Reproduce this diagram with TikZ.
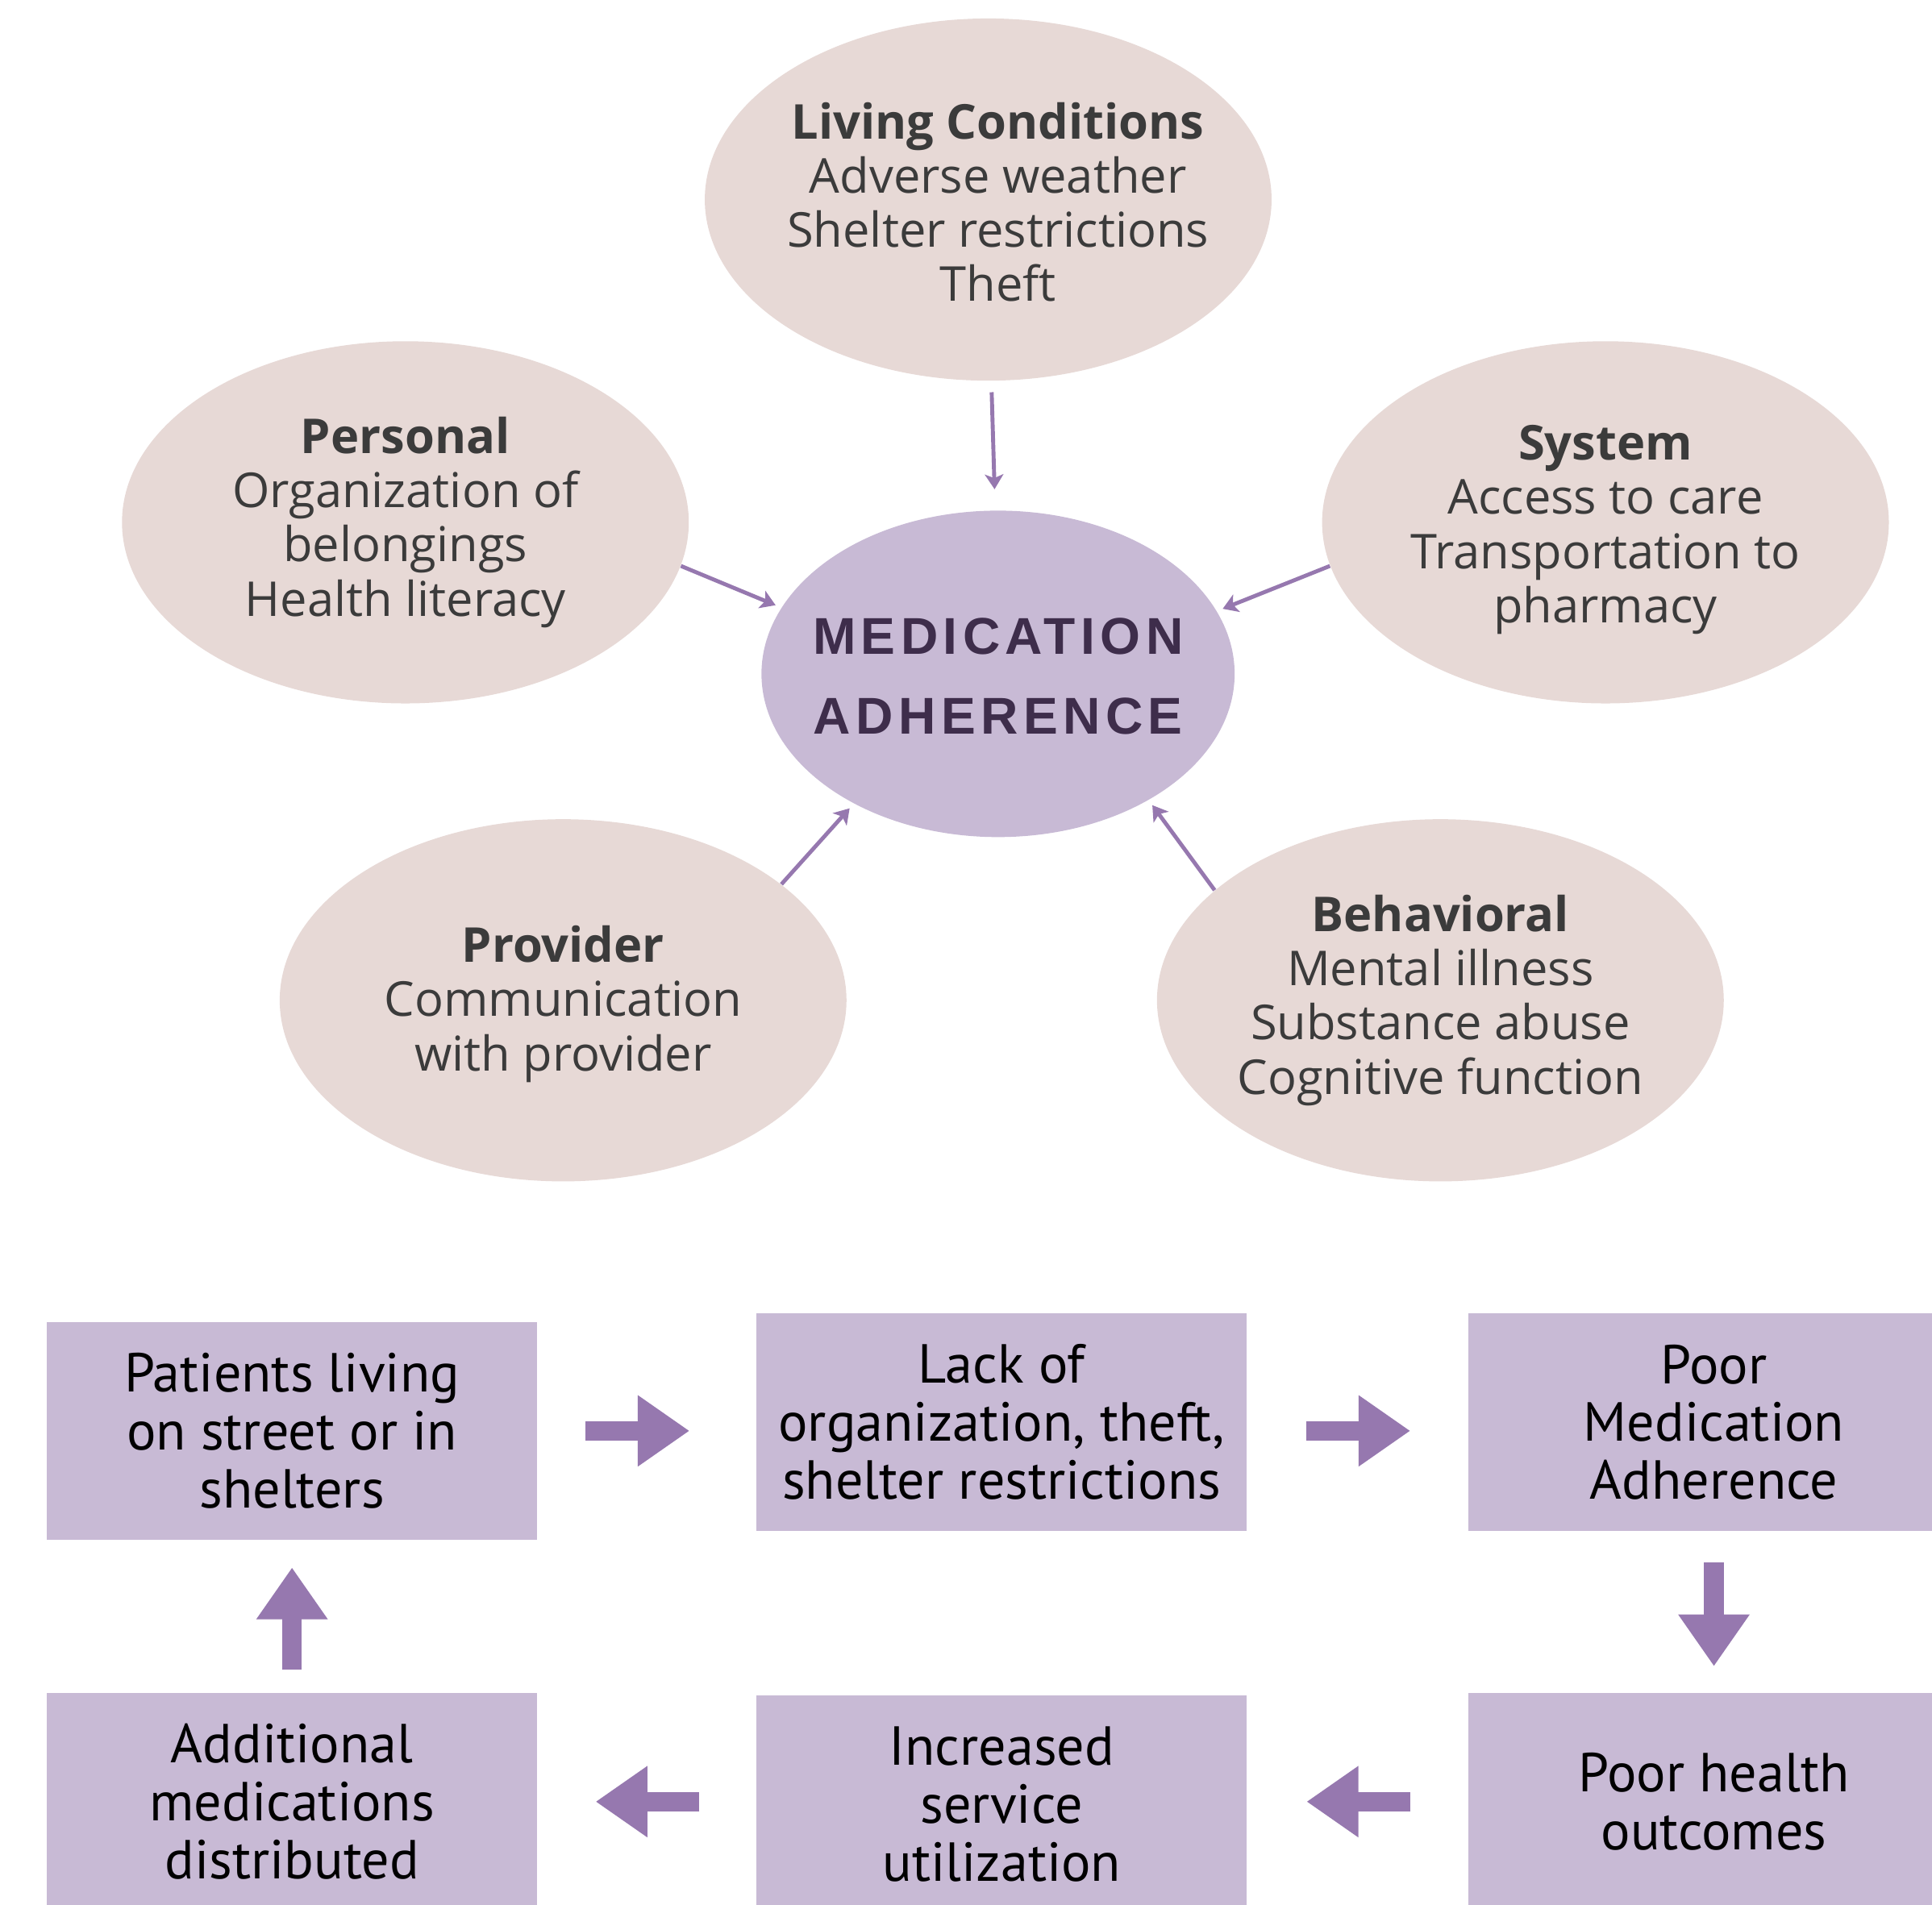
\documentclass[tikz,border=0pt]{standalone}
\usepackage{fontspec}
\setmainfont{Open Sans}
\newfontfamily\boxfont{PT Sans}
\newfontfamily\hubfont[LetterSpace=10]{Liberation Sans}
\usepackage{tikz}
\usetikzlibrary{shapes.geometric, arrows.meta, positioning, calc}
\definecolor{factorbeige}{RGB}{231, 217, 214}
\definecolor{hubpurple}{RGB}{200, 186, 213}
\definecolor{arrowpurple}{RGB}{150, 120, 175}
\definecolor{hubtext}{RGB}{62, 45, 75}
\definecolor{factortext}{RGB}{59, 59, 59}

\tikzset{
    factor/.style={ellipse, fill=factorbeige, minimum width=230pt, minimum height=147pt, inner sep=0pt},
    factorlabel/.style={align=center, inner sep=0pt, text=factortext, font=\fontsize{19.5}{22}\selectfont},
    hub/.style={ellipse, fill=hubpurple, minimum width=192pt, minimum height=132.5pt, inner sep=0pt},
    hublabel/.style={align=center, inner sep=0pt, text=hubtext, font=\hubfont\bfseries\fontsize{21}{32.5}\selectfont},
    stagebox/.style={rectangle, fill=hubpurple, minimum width=199pt, minimum height=88.5pt, inner sep=0pt, align=center, font=\boxfont\fontsize{22.3}{23.5}\selectfont},
    link/.style={arrowpurple, line width=1.6pt, -{Stealth[length=6pt, width=7.5pt, inset=1.5pt]}, shorten >=2.5pt},
    flow/.style={arrowpurple, line width=8pt, -{Triangle[length=21pt, width=27.5pt]}}
}

\begin{document}
\begin{tikzpicture}[x=0.5pt, y=-0.5pt]
    \useasboundingbox (0,0) rectangle (1568,1546);
    \clip (0,0) rectangle (1568,1546);

    % Factor ellipses
    \foreach \name/\x/\y in {living/802/162, personal/329/424, system/1303/424, provider/457/812, behavioral/1169/812} {
        \node[factor] (\name) at (\x,\y) {};
    }
    \node[factorlabel] (livingtxt) at ([xshift=4pt, yshift=-1pt]living) {\textbf{Living Conditions}\\Adverse weather\\Shelter restrictions\\Theft};
    \node[factorlabel] (personaltxt) at (personal) {\textbf{Personal}\\Organization of\\belongings\\Health literacy};
    \node[factorlabel] (systemtxt) at ([yshift=-3pt]system) {\textbf{System}\\Access to care\\Transportation to\\pharmacy};
    \node[factorlabel] (providertxt) at ([yshift=-1.5pt]provider) {\textbf{Provider}\\Communication\\with provider};
    \node[factorlabel] (behavioraltxt) at (behavioral) {\textbf{Behavioral}\\Mental illness\\Substance abuse\\Cognitive function};

    % Centre
    \node[hub] (med) at (810,547) {};
    \node[hublabel] (medtxt) at ([yshift=-1pt]med) {MEDICATION\\ADHERENCE};

    % Thin arrows into the centre
    \draw[link, shorten <=4.5pt, shorten >=8.5pt] (living.-89) -- (med.91.5);
    \draw[link] (personal.-9) -- (med.163);
    \draw[link] (system.-171) -- (med.16);
    \draw[link] (provider.28) -- (med.-138);
    \draw[link] (behavioral.154) -- (med.-40);

    % Cycle boxes
    \node[stagebox] (patients) at (237,1161.5) {Patients living\\on street or in\\shelters};
    \node[stagebox] (lack) at (813,1154.5) {Lack of\\organization, theft,\\shelter restrictions};
    \node[stagebox] (pooradh) at (1391,1154.5) {Poor\\Medication\\Adherence};
    \node[stagebox] (additional) at (237,1462.5) {Additional\\medications\\distributed};
    \node[stagebox] (service) at (813,1464.5) {Increased\\service\\utilization};
    \node[stagebox] (outcomes) at (1391,1462.5) {Poor health\\outcomes};

    % Block arrows
    \draw[flow, shorten <=19.5pt, shorten >=27pt] (patients.east) -- (patients.east -| lack.west);
    \draw[flow, shorten <=24pt, shorten >=23.5pt] (patients.east -| lack.east) -- (patients.east -| pooradh.west);
    \draw[flow, shorten <=12.5pt, shorten >=10.5pt] (pooradh.south) -- (outcomes.north);
    \draw[flow, shorten <=23.5pt, shorten >=24pt] (outcomes.west) -- (outcomes.west -| service.east);
    \draw[flow, shorten <=23pt, shorten >=23.5pt] (outcomes.west -| service.west) -- (outcomes.west -| additional.east);
    \draw[flow, shorten <=9pt, shorten >=11pt] (additional.north) -- (patients.south);
\end{tikzpicture}
\end{document}
